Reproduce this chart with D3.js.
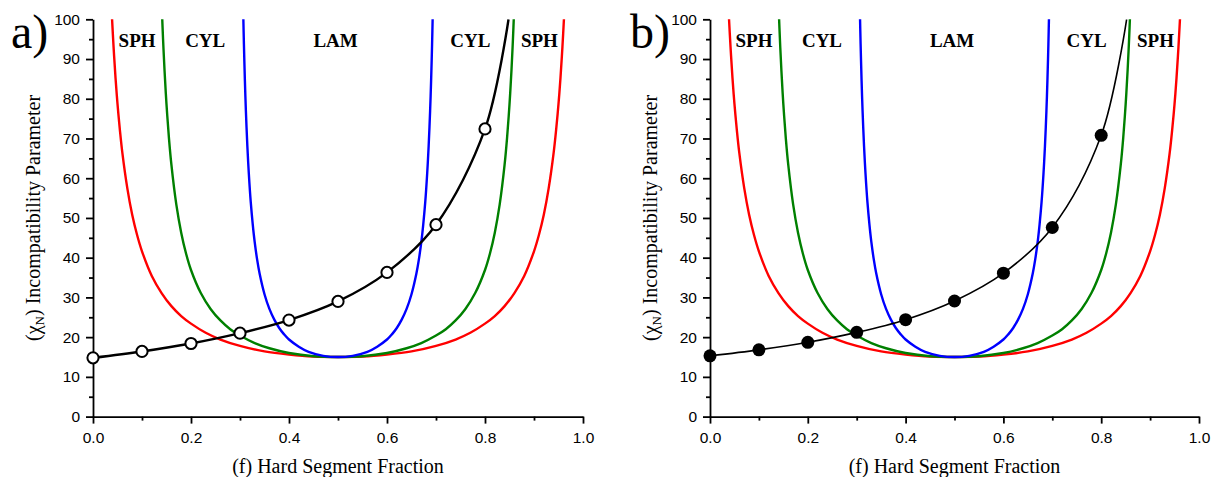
<!DOCTYPE html>
<html>
<head>
<meta charset="utf-8">
<script src="https://cdn.jsdelivr.net/npm/d3@7"></script>
<style>
  html, body { margin: 0; padding: 0; background: #fff; }
  svg { display: block; }
  .tick text { font-family: 'Liberation Sans', Arial, sans-serif; font-size: 15.5px; fill: #000; }
  .title { font-family: 'Liberation Serif', 'Times New Roman', serif; fill: #000; }
</style>
</head>
<body>
<svg id="chart" width="1214" height="477"></svg>
<script>
// phase boundaries (f, chiN)
const sphF = [0.0385, 0.042, 0.046, 0.05, 0.055, 0.06, 0.07, 0.08, 0.09, 0.10, 0.12, 0.14, 0.16, 0.18, 0.20, 0.23, 0.26, 0.30, 0.35, 0.40, 0.45, 0.50,
  0.55, 0.60, 0.65, 0.70, 0.74, 0.77, 0.80, 0.82, 0.84, 0.86, 0.88, 0.90, 0.91, 0.92, 0.93, 0.94, 0.945, 0.95, 0.954, 0.958, 0.9615]
const sphChi = [101.0, 93.0, 85.2, 78.7, 72.0, 66.3, 57.5, 50.8, 45.7, 41.6, 35.4, 31.1, 27.8, 25.3, 23.4, 21.1, 19.4, 17.8, 16.4, 15.6, 15.1, 15.0,
  15.1, 15.6, 16.4, 17.8, 19.4, 21.1, 23.4, 25.3, 27.8, 31.1, 35.4, 41.6, 45.7, 50.8, 57.5, 66.3, 72.0, 78.7, 85.2, 93.0, 101.0]

const cylF = [0.1405, 0.143, 0.146, 0.15, 0.155, 0.16, 0.17, 0.18, 0.19, 0.20, 0.22, 0.24, 0.26, 0.28, 0.30, 0.33, 0.36, 0.40, 0.45, 0.50,
  0.55, 0.60, 0.64, 0.67, 0.70, 0.72, 0.74, 0.76, 0.78, 0.80, 0.81, 0.82, 0.83, 0.84, 0.845, 0.85, 0.854, 0.857, 0.8595]
const cylChi = [102.6, 94.9, 87.1, 78.6, 70.1, 63.4, 53.4, 46.3, 41.0, 36.9, 31.1, 27.1, 24.2, 22.0, 20.4, 18.5, 17.2, 16.0, 15.2, 15.0,
  15.2, 16.0, 17.2, 18.5, 20.4, 22.0, 24.2, 27.1, 31.1, 36.9, 41.0, 46.3, 53.4, 63.4, 70.1, 78.6, 87.1, 94.9, 102.6]

const lamF = [0.3065, 0.308, 0.310, 0.312, 0.315, 0.318, 0.322, 0.326, 0.330, 0.335, 0.340, 0.350, 0.360, 0.370, 0.380, 0.390, 0.400, 0.420, 0.440, 0.470, 0.500,
  0.530, 0.560, 0.580, 0.600, 0.610, 0.620, 0.630, 0.640, 0.650, 0.660, 0.665, 0.670, 0.674, 0.678, 0.682, 0.685, 0.688, 0.690, 0.692, 0.6935]
const lamChi = [102.1, 93.7, 84.5, 77.0, 68.1, 61.2, 53.9, 48.4, 43.9, 39.5, 36.0, 30.8, 27.1, 24.4, 22.3, 20.7, 19.4, 17.6, 16.3, 15.3, 15.0,
  15.3, 16.3, 17.6, 19.4, 20.7, 22.3, 24.4, 27.1, 30.8, 36.0, 39.5, 43.9, 48.4, 53.9, 61.2, 68.1, 77.0, 84.5, 93.7, 102.1]

// measured points
const hardF = [0, 0.1, 0.2, 0.3, 0.4, 0.5, 0.6, 0.7, 0.8]
const chiA = [14.8, 16.4, 18.4, 21.0, 24.3, 29.0, 36.3, 48.3, 72.4]
const chiB = [15.3, 16.8, 18.7, 21.2, 24.4, 29.1, 36.1, 47.6, 70.8]
// where the fitted line leaves the top of each panel
const exitF = [0.848, 0.852]
const exitChi = [100, 100]

const regionNames = ['SPH', 'CYL', 'LAM', 'CYL', 'SPH']
const regionF = [0.09, 0.229, 0.495, 0.77, 0.911]
const regionChi = 93

const xTicks = [0, 0.2, 0.4, 0.6, 0.8, 1.0]
const xMinor = [0.1, 0.3, 0.5, 0.7, 0.9]
const yTicks = [0, 10, 20, 30, 40, 50, 60, 70, 80, 90, 100]
const yMinor = [5, 15, 25, 35, 45, 55, 65, 75, 85, 95]

const panels = [
  { id: 'a', left: 93, right: 583, tag: 'a)', tagX: 11, chi: chiA, exit: 0, open: true },
  { id: 'b', left: 710, right: 1199, tag: 'b)', tagX: 630, chi: chiB, exit: 1, open: false },
]

const plotTop = 19.3
const plotBottom = 416.6

const svg = d3.select('#chart')
const y = d3.scaleLinear().domain([0, 100]).range([plotBottom, plotTop])

const zip = (fs, vs) => fs.map((f, i) => ({ f, v: vs[i] }))

panels.forEach((p) => {
  const x = d3.scaleLinear().domain([0, 1]).range([p.left, p.right])
  const g = svg.append('g')

  g.append('clipPath').attr('id', 'clip-' + p.id)
    .append('rect')
    .attr('x', p.left).attr('y', plotTop)
    .attr('width', p.right - p.left).attr('height', plotBottom - plotTop)

  const line = d3.line()
    .x((d) => x(d.f))
    .y((d) => y(d.v))
    .curve(d3.curveCatmullRom.alpha(0.5))

  const curves = [
    { data: zip(sphF, sphChi), color: '#ff0000' },
    { data: zip(cylF, cylChi), color: '#008000' },
    { data: zip(lamF, lamChi), color: '#0000ff' },
  ]

  const plot = g.append('g').attr('clip-path', `url(#clip-${p.id})`)
  plot.selectAll('path.boundary')
    .data(curves)
    .enter()
    .append('path')
    .attr('class', 'boundary')
    .attr('d', (d) => line(d.data))
    .attr('fill', 'none')
    .attr('stroke', (d) => d.color)
    .attr('stroke-width', 2.4)

  const pts = zip(hardF, p.chi)
  const fitPts = pts.concat([{ f: exitF[p.exit], v: exitChi[p.exit] }])
  plot.append('path')
    .attr('d', line(fitPts))
    .attr('fill', 'none')
    .attr('stroke', '#000')
    .attr('stroke-width', p.open ? 2.4 : 1.6)

  // axes
  const yAxis = d3.axisLeft(y).tickValues(yTicks).tickSize(7).tickSizeOuter(0).tickPadding(6).tickFormat(d3.format('d'))
  const yAxisMinor = d3.axisLeft(y).tickValues(yMinor).tickSize(4).tickSizeOuter(0).tickFormat('')
  const xAxis = d3.axisBottom(x).tickValues(xTicks).tickSize(7).tickSizeOuter(0).tickPadding(8).tickFormat(d3.format('.1f'))
  const xAxisMinor = d3.axisBottom(x).tickValues(xMinor).tickSize(4).tickSizeOuter(0).tickFormat('')

  const ya = g.append('g').attr('transform', `translate(${p.left},0)`).call(yAxis)
  g.append('g').attr('transform', `translate(${p.left},0)`).call(yAxisMinor).select('.domain').remove()
  const xa = g.append('g').attr('transform', `translate(0,${plotBottom})`).call(xAxis)
  g.append('g').attr('transform', `translate(0,${plotBottom})`).call(xAxisMinor).select('.domain').remove()

  g.selectAll('.domain, .tick line').attr('stroke', '#000').attr('stroke-width', 1.8)
  ya.attr('font-size', null).attr('font-family', null)
  xa.attr('font-size', null).attr('font-family', null)

  // markers on top of axes
  g.append('g').selectAll('circle')
    .data(pts)
    .enter()
    .append('circle')
    .attr('cx', (d) => x(d.f))
    .attr('cy', (d) => y(d.v))
    .attr('r', p.open ? 5.6 : 6.5)
    .attr('fill', p.open ? '#fff' : '#000')
    .attr('stroke', '#000')
    .attr('stroke-width', p.open ? 2 : 0)

  // phase region labels
  g.selectAll('text.region')
    .data(regionNames)
    .enter()
    .append('text')
    .attr('class', 'region title')
    .attr('x', (d, i) => x(regionF[i]))
    .attr('y', y(regionChi))
    .attr('text-anchor', 'middle')
    .attr('font-size', 19)
    .attr('font-weight', 'bold')
    .text((d) => d)

  // axis titles
  g.append('text')
    .attr('class', 'title')
    .attr('x', (p.left + p.right) / 2)
    .attr('y', 472.5)
    .attr('text-anchor', 'middle')
    .attr('font-size', 20)
    .text('(f) Hard Segment Fraction')

  const yt = g.append('text')
    .attr('class', 'title')
    .attr('transform', `translate(${p.left - 53},${(plotTop + plotBottom) / 2}) rotate(-90)`)
    .attr('text-anchor', 'middle')
    .attr('font-size', 20)
  yt.append('tspan').text('(χ')
  yt.append('tspan').attr('font-size', 13).attr('dy', 4).text('N')
  yt.append('tspan').attr('dy', -4).text(') Incompatibility Parameter')

  g.append('text')
    .attr('class', 'title')
    .attr('x', p.tagX)
    .attr('y', 48)
    .attr('font-size', 48)
    .text(p.tag)
})
</script>
</body>
</html>
